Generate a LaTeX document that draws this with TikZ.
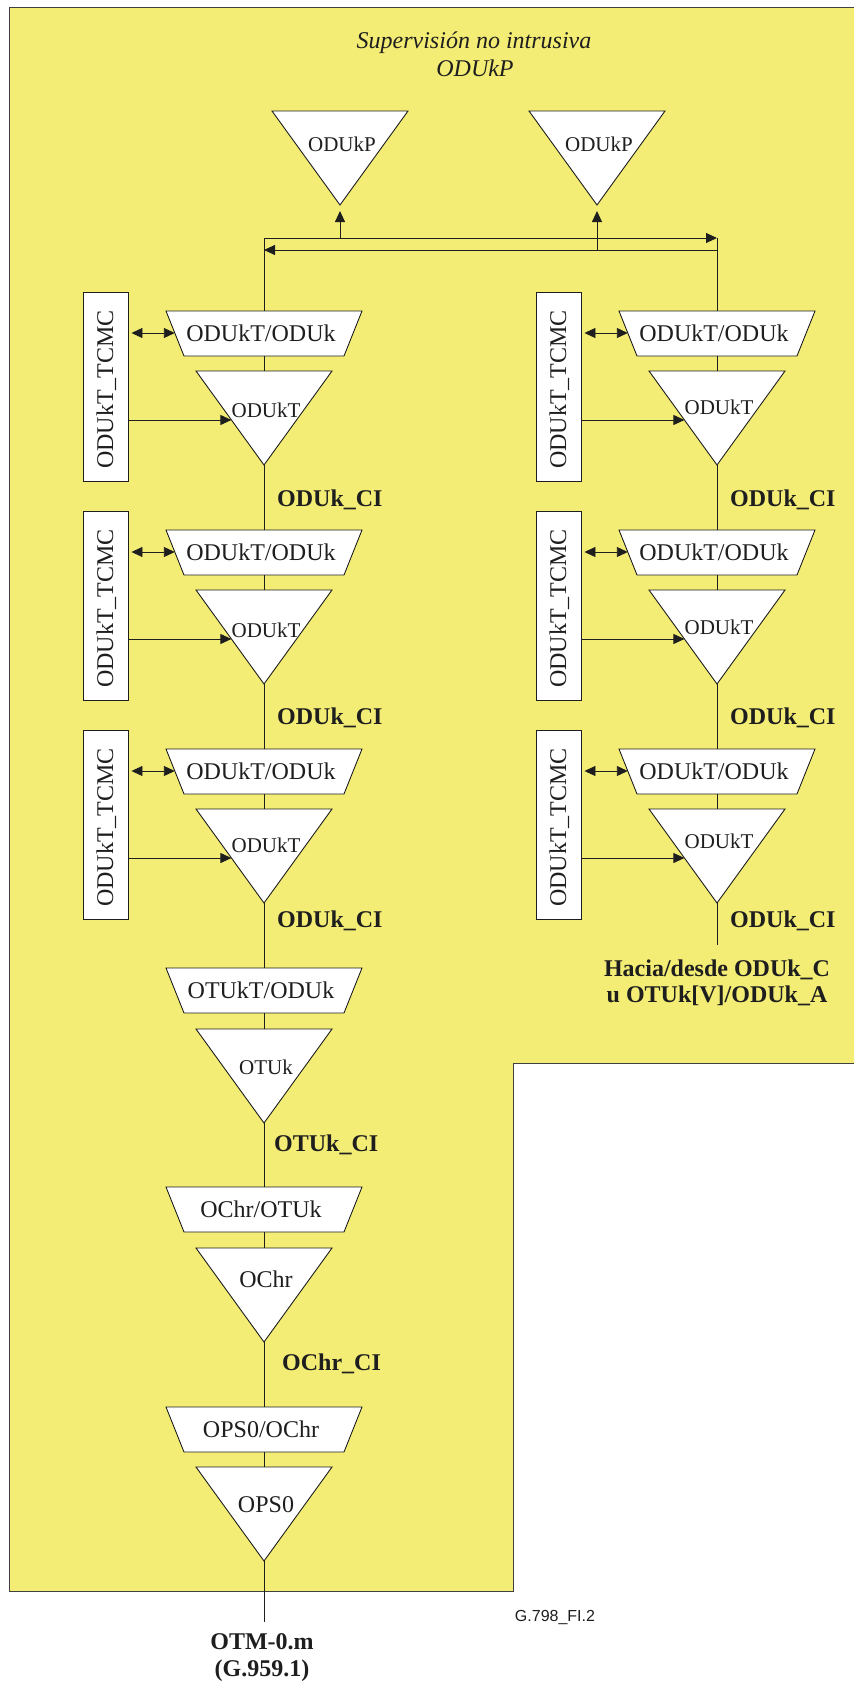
\documentclass[tikz,border=0pt]{standalone}
\usepackage{fontspec}
\setmainfont{Liberation Serif}
\newfontfamily\figsans{Liberation Sans}
\usetikzlibrary{arrows.meta}
\definecolor{bgyellow}{RGB}{243,237,117}
\definecolor{inkc}{RGB}{30,30,30}

\tikzset{
  shapeline/.style={draw=inkc, fill=white, line width=0.9pt, line join=miter},
  wire/.style={draw=inkc, line width=0.9pt},
  arr/.style={wire, -{Triangle[length=11pt,width=10pt]}},
  darr/.style={wire, {Triangle[length=11pt,width=10pt]}-{Triangle[length=11pt,width=10pt]}},
  lbl/.style={inner sep=0pt, anchor=base, text=inkc, font=\fontsize{24}{28}\selectfont},
  slbl/.style={inner sep=0pt, anchor=base, text=inkc, font=\fontsize{21}{25}\selectfont},
  blbl/.style={inner sep=0pt, anchor=base west, text=inkc, font=\fontsize{24}{28}\selectfont\bfseries},
  bclbl/.style={inner sep=0pt, anchor=base, text=inkc, font=\fontsize{24}{28}\selectfont\bfseries},
  tcmcbox/.style={draw=inkc, fill=white, line width=0.9pt, minimum width=45pt, minimum height=189pt, inner sep=0pt},
}

% inverted triangle: name, centre x, top y, text, text baseline offset, font style
\newcommand\mytri[6]{%
  \path[shapeline] ({#2-68},{#3}) -- ({#2+68},{#3}) -- ({#2},{#3+94}) -- cycle;
  \coordinate (#1-top) at ({#2},{#3});
  \coordinate (#1-tip) at ({#2},{#3+94});
  \node[#6] (#1-txt) at ({#2+2},{#3+#5}) {#4};
}
% trapezoid: name, centre x, top y, text
\newcommand\mytrap[4]{%
  \path[shapeline] ({#2-98},{#3}) -- ({#2+98},{#3}) -- ({#2+80},{#3+45}) -- ({#2-80},{#3+45}) -- cycle;
  \coordinate (#1-top) at ({#2},{#3});
  \coordinate (#1-bot) at ({#2},{#3+45});
  \node[lbl] (#1-txt) at ({#2-3},{#3+30}) {#4};
}
% TCMC unit: name, centre x, top y, triangle text offset
\newcommand\tcmcunit[4]{%
  \node[tcmcbox] (#1-box) at ({#2-158.5},{#3+94.5}) {};
  \node[lbl, rotate=90] (#1-boxtxt) at ({#2-151},{#3+97.5}) {ODUkT\_TCMC};
  \mytrap{#1-trap}{#2}{#3+19}{ODUkT/ODUk}
  \mytri{#1-tri}{#2}{#3+79}{ODUkT}{#4}{slbl}
  \draw[wire] (#1-trap-bot) -- (#1-tri-top);
  \coordinate (#1-tl) at ({#2-89.2},{#3+41});
  \coordinate (#1-tp) at ({#2-32.6},{#3+128});
  \draw[darr, shorten <=3pt] (#1-box.east |- #1-tl) -- (#1-tl);
  \draw[arr] (#1-box.east |- #1-tp) -- (#1-tp);
}

\begin{document}
\begin{tikzpicture}[x=1pt, y=-1pt]
\useasboundingbox (0,0) rectangle (854,1681);

% yellow region
\fill[bgyellow] (9,7) -- (854,7) -- (854,1063) -- (513,1063) -- (513,1591) -- (9,1591) -- cycle;
\draw[draw=black!75, line width=1pt] (854,7) -- (9,7) -- (9,1591) -- (513,1591) -- (513,1063) -- (854,1063);

% title
\node[lbl, font=\fontsize{24}{28}\selectfont\itshape] (title1) at (474,48) {Supervisión no intrusiva};
\node[lbl, font=\fontsize{24}{28}\selectfont\itshape] (title2) at (475,76) {ODUkP};

% ODUkP monitors
\mytri{pL}{340}{111}{ODUkP}{40}{slbl}
\mytri{pR}{597}{111}{ODUkP}{40}{slbl}

% bus
\coordinate (busL) at (264,238);
\coordinate (busR) at (717,238);
\coordinate (busL2) at (264,250);
\coordinate (busR2) at (717,250);
\coordinate (upL) at (340,238);
\coordinate (upR) at (597,250);
\draw[arr] (busL) -- (busR);
\draw[arr] (busR2) -- (busL2);
\draw[arr, shorten >=6pt] (upL) -- (pL-tip);
\draw[arr, shorten >=6pt] (upR) -- (pR-tip);

% left column
\tcmcunit{L1}{264}{292}{46}
\tcmcunit{L2}{264}{511}{47}
\tcmcunit{L3}{264}{730}{43}
\draw[wire] (busL) -- (L1-trap-top);
\draw[wire] (L1-tri-tip) -- (L2-trap-top);
\draw[wire] (L2-tri-tip) -- (L3-trap-top);
\node[blbl] (ciL1) at (277,506) {ODUk\_CI};
\node[blbl] (ciL2) at (277,724) {ODUk\_CI};
\node[blbl] (ciL3) at (277,927) {ODUk\_CI};

\mytrap{otukt}{264}{968}{OTUkT/ODUk}
\mytri{otuk}{264}{1029}{OTUk}{45}{slbl}
\draw[wire] (L3-tri-tip) -- (otukt-top);
\draw[wire] (otukt-bot) -- (otuk-top);
\node[blbl] (ciOTU) at (274,1151) {OTUk\_CI};

\mytrap{ochrt}{264}{1187}{OChr/OTUk}
\mytri{ochr}{264}{1248}{OChr}{39}{lbl}
\draw[wire] (otuk-tip) -- (ochrt-top);
\draw[wire] (ochrt-bot) -- (ochr-top);
\node[blbl] (ciOCh) at (282,1370) {OChr\_CI};

\mytrap{ops0t}{264}{1407}{OPS0/OChr}
\mytri{ops0}{264}{1467}{OPS0}{45}{lbl}
\draw[wire] (ochr-tip) -- (ops0t-top);
\draw[wire] (ops0t-bot) -- (ops0-top);
\coordinate (otmend) at (264,1622);
\draw[wire] (ops0-tip) -- (otmend);
\node[bclbl] (otm1) at (262,1649) {OTM-0.m};
\node[bclbl] (otm2) at (262,1676) {(G.959.1)};

% right column
\tcmcunit{R1}{717}{292}{43}
\tcmcunit{R2}{717}{511}{44}
\tcmcunit{R3}{717}{730}{39}
\draw[wire] (busR) -- (R1-trap-top);
\draw[wire] (R1-tri-tip) -- (R2-trap-top);
\draw[wire] (R2-tri-tip) -- (R3-trap-top);
\node[blbl] (ciR1) at (730,506) {ODUk\_CI};
\node[blbl] (ciR2) at (730,724) {ODUk\_CI};
\node[blbl] (ciR3) at (730,927) {ODUk\_CI};
\coordinate (rend) at (717,945);
\draw[wire] (R3-tri-tip) -- (rend);
\node[bclbl] (hacia1) at (717,976) {Hacia/desde ODUk\_C};
\node[bclbl] (hacia2) at (717,1002) {u OTUk[V]/ODUk\_A};

% figure id
\node[inner sep=0pt, anchor=base, text=inkc, font=\figsans\fontsize{16}{19}\selectfont] (figid) at (555,1621) {G.798\_FI.2};
\end{tikzpicture}
\end{document}
